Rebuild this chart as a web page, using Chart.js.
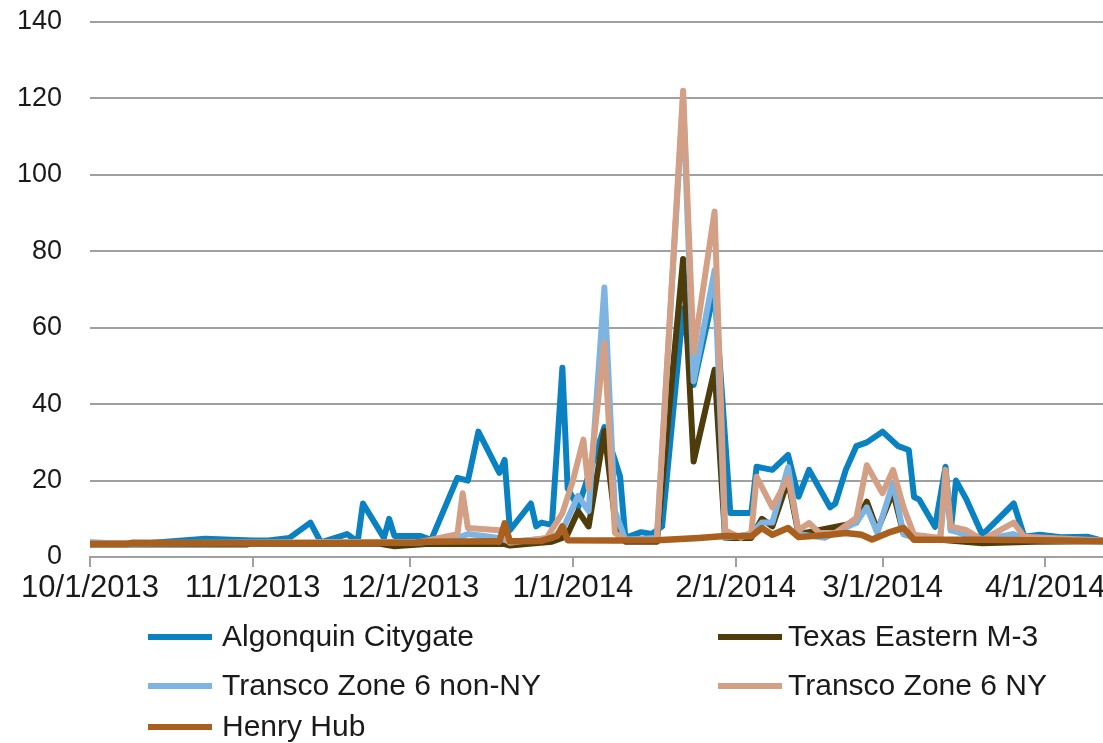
<!DOCTYPE html>
<html>
<head>
<meta charset="utf-8">
<title>Gas prices 2013-2014</title>
<script src="https://cdn.jsdelivr.net/npm/chart.js@4.4.1/dist/chart.umd.min.js"></script>
<style>
    html, body { margin: 0; padding: 0; background: #ffffff; }
    #wrap { position: relative; width: 1103px; height: 743px; }
</style>
</head>
<body>
<div id="wrap"><canvas id="priceChart" width="1103" height="743"></canvas></div>
<script>
// x values are days counted from 10/1/2013
const monthTickDays = [0, 31, 61, 92, 123, 151, 182];
const monthTickLabels = ['10/1/2013', '11/1/2013', '12/1/2013', '1/1/2014', '2/1/2014', '3/1/2014', '4/1/2014'];

const algonquinDays = [0, 8, 12, 22, 27, 31, 34, 38, 42, 44, 49, 51, 52, 56, 57, 58, 63, 65, 70, 72, 74, 78, 79, 80, 84, 85, 86, 88, 90, 91, 93, 98, 101, 102, 105, 107, 109, 113, 115, 119, 122, 126, 127, 130, 133, 135, 137, 141, 142, 144, 146, 148, 151, 154, 156, 157, 158, 161, 163, 164, 165, 167, 170, 176, 178, 181, 185, 190, 193];
const algonquinValues = [3.8, 3.5, 3.7, 4.8, 4.5, 4.3, 4.3, 5.0, 9, 3.8, 6.0, 4.0, 14, 5.0, 10, 5.5, 5.5, 4.5, 20.7, 20, 32.8, 22, 25.4, 7, 14, 8, 9, 8.4, 49.5, 18, 13, 34, 21, 5, 6.5, 6, 8, 65, 45, 70, 11.5, 11.5, 23.6, 22.8, 26.7, 15.8, 22.8, 13, 14, 22.8, 29, 30, 32.8, 29, 28, 15.7, 15, 7.9, 23.6, 7, 20, 15, 5.8, 14, 5.3, 5.8, 5.2, 5.3, 4.2];

const texasDays = [0, 30, 31, 55, 58, 64, 79, 80, 88, 90, 91, 93, 95, 98, 100, 102, 108, 113, 115, 119, 121, 126, 128, 130, 133, 135, 146, 148, 150, 153, 155, 158, 170, 180, 193];
const texasValues = [3.3, 3.3, 3.5, 3.5, 2.8, 3.4, 3.4, 3.0, 4, 5, 6, 12, 8, 33, 10, 4, 4, 78, 25, 49, 5, 5, 10, 8, 20, 6, 9, 14.5, 7, 17, 6, 5, 3.6, 4.0, 4.1];

const nonNyDays = [0, 63, 70, 72, 78, 80, 88, 90, 91, 93, 95, 98, 100, 102, 108, 113, 115, 119, 121, 126, 128, 130, 133, 135, 140, 146, 148, 150, 153, 155, 157, 162, 163, 164, 170, 176, 178, 193];
const nonNyValues = [3.5, 3.8, 5, 6, 5, 4, 5, 7, 10, 16, 12, 70.5, 12, 4.5, 5, 120, 46, 75, 5, 6, 9, 9, 23.5, 6, 5, 9, 13, 6.3, 19.4, 6, 5, 5, 20, 7, 4.5, 6, 4.5, 4];

const nyDays = [0, 63, 65, 70, 71, 72, 78, 80, 87, 90, 92, 94, 95, 98, 100, 102, 108, 113, 115, 119, 121, 124, 126, 127, 130, 133, 135, 137, 139, 142, 146, 148, 151, 153, 155, 157, 162, 163, 164, 167, 170, 176, 178, 193];
const nyValues = [3.6, 4.0, 4.5, 6, 16.7, 7.6, 7, 3.7, 5, 11.5, 20, 30.7, 18, 56, 6.3, 4.5, 4.5, 122, 53.5, 90.4, 7, 5, 6.3, 21, 13, 20.7, 7, 8.9, 6.3, 6.3, 10.2, 24, 16.7, 22.8, 13, 5.8, 5, 22.8, 8, 7, 4.5, 9, 5.3, 4.3];

const henryDays = [0, 7, 8, 30, 45, 62, 64, 77, 78, 79, 80, 86, 89, 90, 91, 100, 108, 116, 121, 126, 128, 130, 133, 135, 141, 144, 147, 149, 152, 155, 157, 170, 185, 193];
const henryValues = [3.4, 3.4, 3.7, 3.6, 3.6, 3.8, 4.0, 4.1, 4.0, 8.8, 4.1, 4.2, 5.5, 8.0, 4.4, 4.3, 4.4, 5.0, 5.5, 5.4, 7.6, 5.8, 7.6, 5.2, 5.8, 6.3, 5.8, 4.6, 6.3, 7.6, 4.5, 4.5, 4.3, 4.1];

const FONT = '"Liberation Sans", Arial, sans-serif';
const TEXT_COLOR = '#1a1a1a';
const GRID_COLOR = '#a0a0a0';

function toPoints(days, values) {
    return days.map((d, i) => ({ x: d, y: values[i] }));
}

function makeSeries(label, days, values, color, order, width) {
    return {
        label: label,
        data: toPoints(days, values),
        borderColor: color,
        backgroundColor: color,
        borderWidth: width,
        pointRadius: 0,
        tension: 0,
        borderJoinStyle: 'round',
        borderCapStyle: 'round',
        order: order
    };
}

// Legend laid out in two columns below the plot
const legendGrid = {
    id: 'legendGrid',
    afterDraw(chart) {
        const ctx = chart.ctx;
        const cols = [{ line: 148, text: 222 }, { line: 718, text: 788 }];
        const rows = [637, 686, 727];
        ctx.save();
        ctx.font = '30px ' + FONT;
        ctx.textBaseline = 'middle';
        ctx.textAlign = 'left';
        chart.data.datasets.forEach((ds, i) => {
            const c = cols[i % 2];
            const y = rows[Math.floor(i / 2)];
            ctx.strokeStyle = ds.borderColor;
            ctx.lineWidth = 6;
            ctx.lineCap = 'butt';
            ctx.beginPath();
            ctx.moveTo(c.line, y);
            ctx.lineTo(c.line + 64, y);
            ctx.stroke();
            ctx.fillStyle = TEXT_COLOR;
            ctx.fillText(ds.label, c.text, y + 1);
        });
        ctx.restore();
    }
};

const ctx = document.getElementById('priceChart').getContext('2d');
new Chart(ctx, {
    type: 'line',
    data: {
        datasets: [
            makeSeries('Algonquin Citygate', algonquinDays, algonquinValues, '#0a82c2', 5, 6),
            makeSeries('Texas Eastern M-3', texasDays, texasValues, '#4f3c0b', 4, 6),
            makeSeries('Transco Zone 6 non-NY', nonNyDays, nonNyValues, '#7db4e2', 3, 6),
            makeSeries('Transco Zone 6 NY', nyDays, nyValues, '#d3a086', 2, 6),
            makeSeries('Henry Hub', henryDays, henryValues, '#a9601e', 1, 6.5)
        ]
    },
    options: {
        responsive: false,
        animation: false,
        layout: { padding: { top: 0, right: 0, bottom: 0, left: 0 } },
        plugins: {
            legend: { display: false },
            tooltip: { enabled: false }
        },
        scales: {
            x: {
                type: 'linear',
                min: 0,
                max: 193,
                afterBuildTicks: scale => {
                    scale.ticks = monthTickDays.map(v => ({ value: v }));
                },
                afterFit: scale => {
                    scale.height = 186;
                    scale.paddingLeft = 0;
                    scale.paddingRight = 0;
                },
                grid: {
                    drawOnChartArea: false,
                    drawTicks: true,
                    tickLength: 10,
                    color: GRID_COLOR,
                    lineWidth: 2
                },
                border: { display: true, color: GRID_COLOR, width: 2 },
                ticks: {
                    autoSkip: false,
                    maxRotation: 0,
                    padding: 3,
                    color: TEXT_COLOR,
                    font: { family: FONT, size: 31 },
                    callback: value => {
                        const i = monthTickDays.indexOf(value);
                        return i >= 0 ? monthTickLabels[i] : '';
                    }
                }
            },
            y: {
                min: 0,
                max: 140,
                afterFit: scale => {
                    scale.width = 90;
                    scale.paddingTop = 22;
                    scale.paddingBottom = 0;
                },
                grid: {
                    drawTicks: false,
                    color: GRID_COLOR,
                    lineWidth: 2
                },
                border: { display: false },
                ticks: {
                    stepSize: 20,
                    padding: 28,
                    color: TEXT_COLOR,
                    font: { family: FONT, size: 27 }
                }
            }
        }
    },
    plugins: [legendGrid]
});
</script>
</body>
</html>
